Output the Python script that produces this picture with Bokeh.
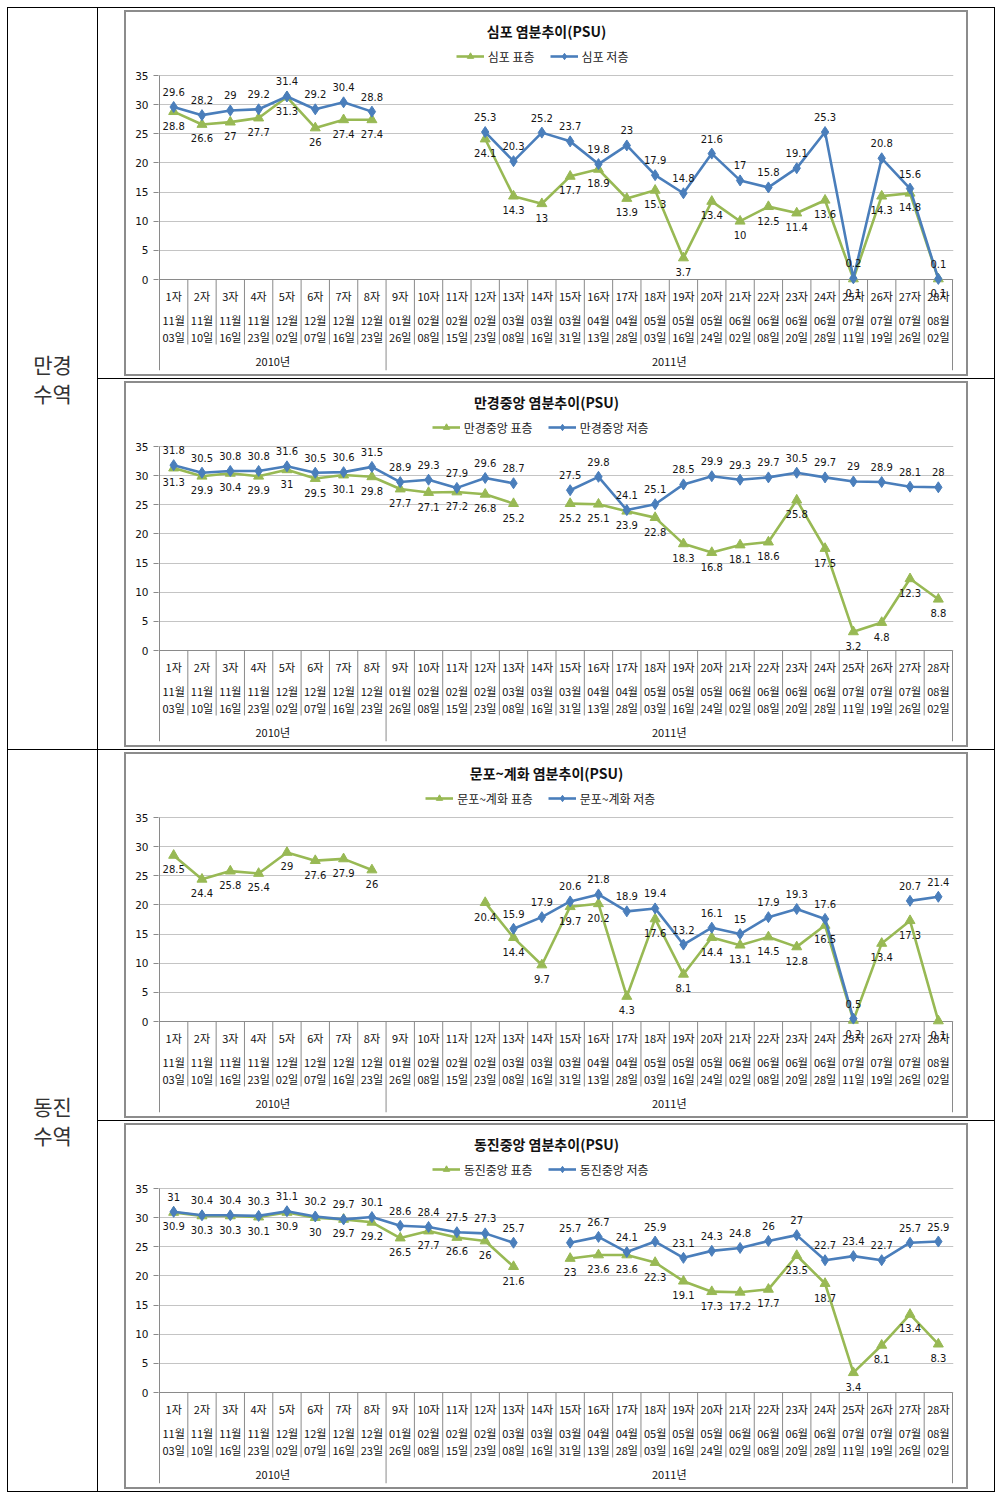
from bokeh.plotting import figure
from bokeh.models import Range1d, FixedTicker, ColumnDataSource, Legend, LegendItem, Label, Div, Spacer
from bokeh.layouts import row, column
from bokeh.core.properties import value
from bokeh.embed import file_html
from bokeh.resources import INLINE

NaN = float("nan")

# ---------------- data ----------------
ROUNDS = ["1자", "2자", "3자", "4자", "5자", "6자", "7자", "8자", "9자", "10자",
          "11자", "12자", "13자", "14자", "15자", "16자", "17자", "18자", "19자", "20자",
          "21자", "22자", "23자", "24자", "25자", "26자", "27자", "28자"]
MONTHS = ["11월", "11월", "11월", "11월", "12월", "12월", "12월", "12월", "01월", "02월",
          "02월", "02월", "03월", "03월", "03월", "04월", "04월", "05월", "05월", "05월",
          "06월", "06월", "06월", "06월", "07월", "07월", "07월", "08월"]
DAYS = ["03일", "10일", "16일", "23일", "02일", "07일", "16일", "23일", "26일", "08일",
        "15일", "23일", "08일", "16일", "31일", "13일", "28일", "03일", "16일", "24일",
        "02일", "08일", "20일", "28일", "11일", "19일", "26일", "02일"]
YEARS = ["2010년", "2011년"]
YEAR_FIRST = [1, 9]
YEAR_LAST = [8, 28]
Y_TICKS = [0, 5, 10, 15, 20, 25, 30, 35]

SIMPO_SURF = [28.8, 26.6, 27, 27.7, 31.3, 26, 27.4, 27.4, NaN, NaN, NaN, 24.1, 14.3, 13,
              17.7, 18.9, 13.9, 15.3, 3.7, 13.4, 10, 12.5, 11.4, 13.6, 0.1, 14.3, 14.8, 0.1]
SIMPO_BOT = [29.6, 28.2, 29, 29.2, 31.4, 29.2, 30.4, 28.8, NaN, NaN, NaN, 25.3, 20.3, 25.2,
             23.7, 19.8, 23, 17.9, 14.8, 21.6, 17, 15.8, 19.1, 25.3, 0.2, 20.8, 15.6, 0.1]

MANGYEONG_SURF = [31.3, 29.9, 30.4, 29.9, 31, 29.5, 30.1, 29.8, 27.7, 27.1, 27.2, 26.8, 25.2, NaN,
                  25.2, 25.1, 23.9, 22.8, 18.3, 16.8, 18.1, 18.6, 25.8, 17.5, 3.2, 4.8, 12.3, 8.8]
MANGYEONG_BOT = [31.8, 30.5, 30.8, 30.8, 31.6, 30.5, 30.6, 31.5, 28.9, 29.3, 27.9, 29.6, 28.7, NaN,
                 27.5, 29.8, 24.1, 25.1, 28.5, 29.9, 29.3, 29.7, 30.5, 29.7, 29, 28.9, 28.1, 28]

MUNPO_SURF = [28.5, 24.4, 25.8, 25.4, 29, 27.6, 27.9, 26, NaN, NaN, NaN, 20.4, 14.4, 9.7,
              19.7, 20.2, 4.3, 17.6, 8.1, 14.4, 13.1, 14.5, 12.8, 16.5, 0.2, 13.4, 17.3, 0.1]
MUNPO_BOT = [NaN, NaN, NaN, NaN, NaN, NaN, NaN, NaN, NaN, NaN, NaN, NaN, 15.9, 17.9,
             20.6, 21.8, 18.9, 19.4, 13.2, 16.1, 15, 17.9, 19.3, 17.6, 0.5, NaN, 20.7, 21.4]

DONGJIN_SURF = [30.9, 30.3, 30.3, 30.1, 30.9, 30, 29.7, 29.2, 26.5, 27.7, 26.6, 26, 21.6, NaN,
                23, 23.6, 23.6, 22.3, 19.1, 17.3, 17.2, 17.7, 23.5, 18.7, 3.4, 8.1, 13.4, 8.3]
DONGJIN_BOT = [31, 30.4, 30.4, 30.3, 31.1, 30.2, 29.7, 30.1, 28.6, 28.4, 27.5, 27.3, 25.7, NaN,
               25.7, 26.7, 24.1, 25.9, 23.1, 24.3, 24.8, 26, 27, 22.7, 23.4, 22.7, 25.7, 25.9]

# ---------------- style / layout constants ----------------
GREEN = "#98b954"
BLUE = "#4a7ebb"
AXIS_GRAY = "#8a8a8a"
GRID_GRAY = "#c4c4c4"
KR = "Noto Sans CJK KR"
NUM = "DejaVu Sans"

W, H = 840, 362            # chart canvas
FL, FR = 32, 827           # frame left / right (canvas px)
FB = 358                   # frame bottom
Y35, Y0 = 63.0, 267.0      # canvas px of y=35 and y=0
PX = (Y0 - Y35) / 35.0
CW = (FR - FL - 2) / 28.0
X_START = 0.5 - 1.0 / CW
X_END = 28.5 + 1.0 / CW
Y_TOP = 35 + Y35 / PX
Y_BOT = -(FB - Y0) / PX


def cx(px):
    return X_START + (px - FL) / CW


def cy(py):
    return 35 - (py - Y35) / PX


def fmt(v):
    return f"{v:g}"


def text_w(s, size):
    w = 0.0
    for ch in s:
        if ord(ch) >= 0x1100:
            w += size
        elif ch == " ":
            w += size * 0.23
        else:
            w += size * 0.55
    return w


def make_chart(title, lab_surf, lab_bot, surf, bot):
    p = figure(width=W, height=H, x_range=Range1d(X_START, X_END), y_range=Range1d(Y_BOT, Y_TOP),
               x_axis_location=None, y_axis_location="left", title=None,
               output_backend="svg", toolbar_location=None,
               min_border_left=FL, min_border_right=W - FR, min_border_top=0, min_border_bottom=H - FB)
    p.outline_line_color = None
    p.background_fill_color = "white"
    p.border_fill_color = "white"
    p.xgrid.grid_line_color = None
    p.ygrid.ticker = FixedTicker(ticks=Y_TICKS)
    p.ygrid.grid_line_color = GRID_GRAY
    ax = p.yaxis[0]
    ax.ticker = FixedTicker(ticks=Y_TICKS)
    ax.axis_line_color = None
    ax.major_tick_out = 5
    ax.major_tick_in = 0
    ax.major_tick_line_color = AXIS_GRAY
    ax.minor_tick_line_color = None
    ax.major_label_standoff = 5
    ax.major_label_text_font = NUM
    ax.major_label_text_font_size = "10.5px"
    ax.major_label_text_color = "#111111"

    n = len(ROUNDS)
    xs = list(range(1, n + 1))

    # category table lines
    bounds_long = [0.5] + [YEAR_LAST[i] + 0.5 for i in range(len(YEARS))]
    bounds_short = [i + 0.5 for i in range(1, n) if (i + 0.5) not in bounds_long]
    p.segment(x0=bounds_long, y0=[Y_BOT] * len(bounds_long), x1=bounds_long,
              y1=[0 if b != 0.5 else 35 for b in bounds_long], line_color=AXIS_GRAY, line_width=1)
    p.segment(x0=bounds_short, y0=[0] * len(bounds_short), x1=bounds_short,
              y1=[-65 / PX] * len(bounds_short), line_color=AXIS_GRAY, line_width=1)
    p.segment(x0=[0.5], y0=[0], x1=[n + 0.5], y1=[0], line_color=AXIS_GRAY, line_width=1)

    zeros = [0] * n
    for labels, off in ((ROUNDS, 16), (MONTHS, 40.5), (DAYS, 57.5)):
        p.text(x=xs, y=zeros, text=labels, y_offset=off, text_align="center", text_baseline="middle",
               text_font=value(KR), text_font_size="11px", text_color="#111111")
    ycen = [(YEAR_FIRST[i] + YEAR_LAST[i]) / 2 for i in range(len(YEARS))]
    p.text(x=ycen, y=[0] * len(YEARS), text=YEARS, y_offset=81.5, text_align="center",
           text_baseline="middle", text_font=value(KR), text_font_size="11px", text_color="#111111")

    # series
    s_src = ColumnDataSource(dict(x=xs, y=surf))
    b_src = ColumnDataSource(dict(x=xs, y=bot))
    rs_l = p.line("x", "y", source=s_src, line_color=GREEN, line_width=2.6)
    rs_m = p.scatter("x", "y", source=s_src, marker="triangle", size=10, fill_color=GREEN, line_color=GREEN)
    rb_l = p.line("x", "y", source=b_src, line_color=BLUE, line_width=2.6)
    rb_m = p.scatter("x", "y", source=b_src, marker="diamond", size=11, fill_color=BLUE, line_color=BLUE)

    for vals, off in ((surf, 14), (bot, -15)):
        lx = [x for x, v in zip(xs, vals) if v == v]
        ly = [v for v in vals if v == v]
        lt = [fmt(v) for v in vals if v == v]
        p.text(x=lx, y=ly, text=lt, y_offset=off, text_align="center", text_baseline="middle",
               text_font=value(NUM), text_font_size="10px", text_color="#141414")

    # title
    p.add_layout(Label(x=cx(420), y=cy(18), text=title, text_align="center", text_baseline="middle",
                       text_font=KR, text_font_style="bold", text_font_size="14px", text_color="#111111"))

    # legend
    gw, st, sp, fs = 28, 4, 15, 12
    total = 2 * (gw + st) + text_w(lab_surf, fs) + text_w(lab_bot, fs) + sp
    left = 420 - total / 2
    leg = Legend(items=[LegendItem(label=lab_surf, renderers=[rs_l, rs_m]),
                        LegendItem(label=lab_bot, renderers=[rb_l, rb_m])],
                 orientation="horizontal", location=(left - FL, FB - 44 - 10),
                 glyph_width=gw, glyph_height=16, label_height=20, label_standoff=st, spacing=sp,
                 padding=0, margin=0, border_line_color=None, background_fill_alpha=0,
                 label_text_font=KR, label_text_font_size=f"{fs}px", label_text_color="#222222")
    p.add_layout(leg)
    return p


def hline(w, h=1, color="#000000"):
    return Spacer(width=w, height=h, margin=0, styles={"background-color": color})


def box(fig):
    g = "#8c8c8c"
    inner = column(hline(W, 2, g), fig, hline(W, 2, g), spacing=0, margin=0)
    b = row(hline(2, H + 4, g), inner, hline(2, H + 4, g), spacing=0, margin=0)
    return column(Spacer(width=896, height=2, margin=0),
                  row(Spacer(width=26, height=H + 4, margin=0), b, Spacer(width=26, height=H + 4, margin=0),
                      spacing=0, margin=0),
                  Spacer(width=896, height=2, margin=0), spacing=0, margin=0)


def side(label_html):
    html = ('<div style="width:89px;height:741px;display:flex;align-items:center;justify-content:center;'
            'text-align:center;font-family:\'Noto Sans CJK KR\';font-size:21px;line-height:29px;color:#333333;">'
            + label_html + '</div>')
    return Div(text=html, width=89, height=741, margin=0)


charts = [
    make_chart("심포 염분추이(PSU)", "심포 표층", "심포 저층", SIMPO_SURF, SIMPO_BOT),
    make_chart("만경중앙 염분추이(PSU)", "만경중앙 표층", "만경중앙 저층", MANGYEONG_SURF, MANGYEONG_BOT),
    make_chart("문포~계화 염분추이(PSU)", "문포~계화 표층", "문포~계화 저층", MUNPO_SURF, MUNPO_BOT),
    make_chart("동진중앙 염분추이(PSU)", "동진중앙 표층", "동진중앙 저층", DONGJIN_SURF, DONGJIN_BOT),
]

right = column(hline(896), box(charts[0]), hline(896), box(charts[1]), hline(896), box(charts[2]),
               hline(896), box(charts[3]), hline(896), spacing=0, margin=0)
left = column(hline(89), side("만경<br>수역"), hline(89), side("동진<br>수역"), hline(89), spacing=0, margin=0)
TOTAL_H = 5 + 4 * (H + 8)
table = row(hline(1, TOTAL_H), left, hline(1, TOTAL_H), right, hline(1, TOTAL_H), spacing=0, margin=0)
page = column(Spacer(width=995, height=7, margin=0),
              row(Spacer(width=7, height=TOTAL_H, margin=0), table, spacing=0, margin=0),
              spacing=0, margin=0)

open("out.html", "w").write(file_html(page, INLINE))
